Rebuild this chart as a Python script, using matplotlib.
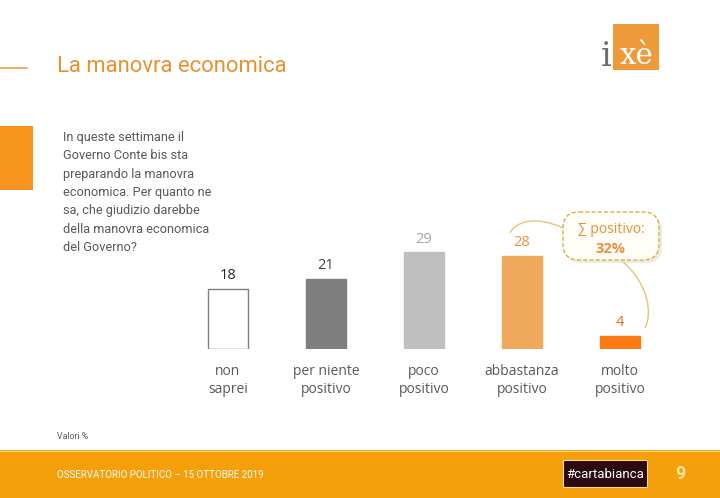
import matplotlib
matplotlib.use("Agg")
import matplotlib.pyplot as plt
from matplotlib.patches import Rectangle, FancyBboxPatch, PathPatch
from matplotlib.path import Path

categories = ["non\nsaprei", "per niente\npositivo", "poco\npositivo", "abbastanza\npositivo", "molto\npositivo"]
values = [18, 21, 29, 28, 4]
bar_colors = ["#ffffff", "#7f7f7f", "#bfbfbf", "#f0a95a", "#fd7a12"]
edge_colors = ["#7f7f7f", "#7f7f7f", "#bfbfbf", "#f0a95a", "#fd7a12"]
label_colors = ["#262626", "#404040", "#a6a6a6", "#e8913a", "#e0691a"]

title = "La manovra economica"
question = ("In queste settimane il\nGoverno Conte bis sta\npreparando la manovra\n"
            "economica. Per quanto ne\nsa, che giudizio darebbe\ndella manovra economica\ndel Governo?")
callout_top = "∑ positivo:"
callout_val = "32%"
footer = "OSSERVATORIO POLITICO – 15 OTTOBRE 2019"

narrow = "Roboto"

W, H = 720, 498
fig = plt.figure(figsize=(W / 100, H / 100), dpi=100)
fig.patch.set_facecolor("white")

def fx(x):
    return x / W

def fy(y):
    return 1 - y / H

bg = fig.add_axes([0, 0, 1, 1])
bg.set_xlim(0, W)
bg.set_ylim(H, 0)
bg.axis("off")

bg.plot([0, 27], [68, 68], color="#f0a04b", lw=1.2)
bg.add_patch(Rectangle((0, 126), 33, 64, color="#f7941d", lw=0))
bg.add_patch(Rectangle((0, 450), W, 48, color="#f59f0b", lw=0))
bg.plot([0, W], [450.5, 450.5], color="#fbd38a", lw=0.8)
bg.add_patch(Rectangle((563, 460), 84, 27, facecolor="#2b0a12", edgecolor="#f7d9a0", lw=0.8))

# logo
bg.add_patch(Rectangle((613, 24), 46, 46, color="#ee9a3a", lw=0))
bg.text(611, 66, "i", family="DejaVu Serif", fontsize=24, color="#6d6d6d", ha="right", va="baseline")
bg.text(636, 64, "xè", family="DejaVu Serif", fontsize=21, color="white", ha="center", va="baseline")

bg.text(57, 72, title, family=narrow, fontsize=15.8, color="#e8912f", va="baseline")
bg.text(63, 131, question, family=narrow, fontsize=9.2, color="#595959", va="top", linespacing=1.53)
bg.text(57, 439, "Valori %", family=narrow, fontsize=6.3, color="#595959", va="baseline")
bg.text(57, 478, footer, family=narrow, fontsize=7.0, color="white", va="baseline")
bg.text(605, 478, "#cartabianca", family=narrow, fontsize=9.5, color="white", va="baseline", ha="center")
bg.text(680, 479, "9", family=narrow, fontsize=13, color="#fde39a", va="baseline", ha="center", weight="bold")

# chart axes
left, right = 179, 669
top, base = 199, 349
ax = fig.add_axes([fx(left), fy(base), (right - left) / W, (base - top) / H])
ax.set_xlim(-0.5, 4.5)
ax.set_ylim(0, 45)
ax.axis("off")
x = list(range(len(values)))
ax.bar(x, values, width=0.41, color=bar_colors, edgecolor=edge_colors, linewidth=1)
for xi, v, c in zip(x, values, label_colors):
    ax.annotate(str(v), (xi, v), xytext=(0, 4), textcoords="offset points",
                ha="center", va="bottom", fontsize=10.5, color=c, family="Open Sans")
for xi, lab in zip(x, categories):
    ax.annotate(lab, (xi, 0), xytext=(0, -11), textcoords="offset points",
                ha="center", va="top", fontsize=10, color="#595959", family="Open Sans",
                linespacing=1.25)

# callout bubble
bg.add_patch(FancyBboxPatch((566, 215), 96, 48, boxstyle="round,pad=0,rounding_size=16",
                            facecolor="#e8dcc0", edgecolor="none", alpha=0.6, zorder=2))
bg.add_patch(FancyBboxPatch((563, 212), 96, 48, boxstyle="round,pad=0,rounding_size=16",
                            facecolor="#fffdf7", edgecolor="#d9b048", lw=1, ls=(0, (3, 1.5)),
                            zorder=3))
bg.text(611, 229, callout_top, ha="center", va="center", fontsize=10, color="#e8913a",
        family="Open Sans", zorder=4)
bg.text(611, 249, callout_val, ha="center", va="center", fontsize=10.5, color="#e8913a",
        family="Open Sans", weight="bold", zorder=4)
p1 = Path([(563, 228), (535, 215), (515, 222), (510, 233)],
          [Path.MOVETO, Path.CURVE4, Path.CURVE4, Path.CURVE4])
bg.add_patch(PathPatch(p1, facecolor="none", edgecolor="#e9c27a", lw=1))
p2 = Path([(622, 261), (650, 285), (652, 315), (645, 328)],
          [Path.MOVETO, Path.CURVE4, Path.CURVE4, Path.CURVE4])
bg.add_patch(PathPatch(p2, facecolor="none", edgecolor="#e9c27a", lw=1))

fig.savefig("out.png", dpi=100)
